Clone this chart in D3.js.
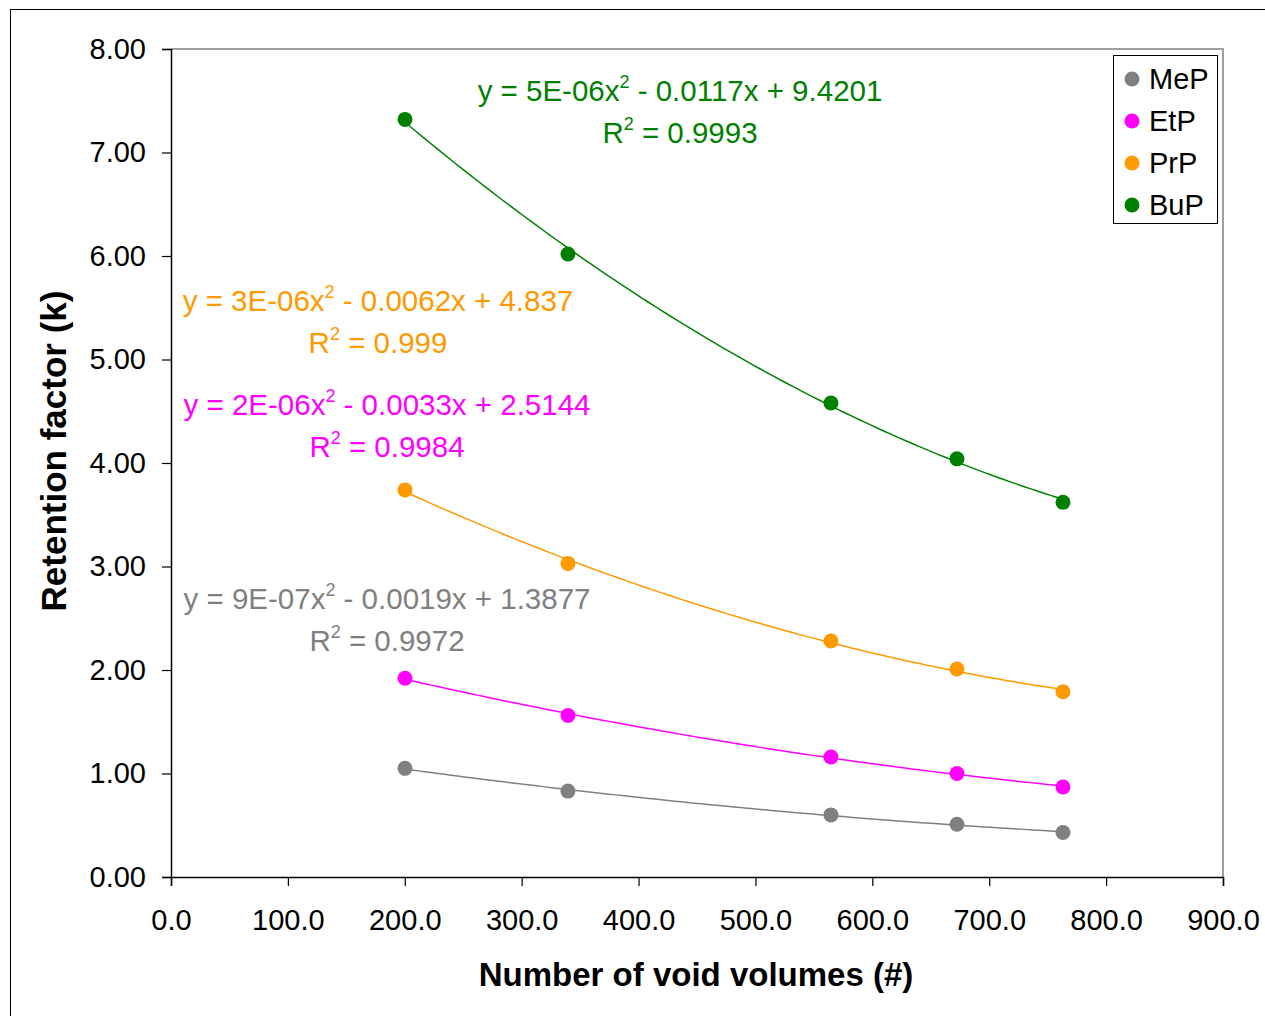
<!DOCTYPE html>
<html>
<head>
<meta charset="utf-8">
<script src="https://cdn.jsdelivr.net/npm/d3@7"></script>
<style>
  body { margin: 0; background: #fff; }
  text { font-family: "Liberation Sans", Arial, sans-serif; }
</style>
</head>
<body>
<div class="canvas"></div>
<script>
// data
const voidVolumes = [200.2, 339.6, 564.6, 672.4, 763.1];
const seriesNames = ['MeP', 'EtP', 'PrP', 'BuP'];
const seriesColors = ['#808080', '#ff00ff', '#ff9900', '#008000'];
const mep = [1.05, 0.83, 0.60, 0.51, 0.43];
const etp = [1.92, 1.56, 1.16, 1.00, 0.87];
const prp = [3.74, 3.03, 2.28, 2.01, 1.79];
const bup = [7.32, 6.02, 4.58, 4.04, 3.62];
const xTicks = [0, 100, 200, 300, 400, 500, 600, 700, 800, 900];
const yTicks = [0, 1, 2, 3, 4, 5, 6, 7, 8];
// trendline labels: [equation before x², equation after x², R² value]
const trendLabels = [
  ['y = 9E-07x', ' - 0.0019x + 1.3877', ' = 0.9972'],
  ['y = 2E-06x', ' - 0.0033x + 2.5144', ' = 0.9984'],
  ['y = 3E-06x', ' - 0.0062x + 4.837', ' = 0.999'],
  ['y = 5E-06x', ' - 0.0117x + 9.4201', ' = 0.9993']
];
const labelSpots = [[387, 609], [387, 415], [378, 311], [680, 101]];

const allSeries = [mep, etp, prp, bup];

const svg = d3.select('.canvas').append('svg')
    .attr('width', 1265)
    .attr('height', 1016);

// outer chart border
svg.append('rect')
    .attr('x', 10.5).attr('y', 9.5)
    .attr('width', 1270).attr('height', 1020)
    .attr('fill', 'none').attr('stroke', '#000').attr('stroke-width', 1);

const x = d3.scaleLinear().domain([0, 900]).range([171, 1223]);
const y = d3.scaleLinear().domain([0, 8]).range([877, 49]);

// plot area frame (grey top/right)
svg.append('path')
    .attr('d', `M${x(0)},${y(8)}H${x(900)}V${y(0)}`)
    .attr('fill', 'none').attr('stroke', '#808080').attr('stroke-width', 1.5);

const xAxis = svg.append('g')
    .attr('transform', `translate(0,${y(0)})`)
    .call(d3.axisBottom(x).tickValues(xTicks).tickFormat(d3.format('.1f')).tickSizeOuter(0).tickSize(9).tickPadding(23));
const yAxis = svg.append('g')
    .attr('transform', `translate(${x(0)},0)`)
    .call(d3.axisLeft(y).tickValues(yTicks).tickFormat(d3.format('.2f')).tickSizeOuter(0).tickSize(9).tickPadding(16));

[xAxis, yAxis].forEach(a => {
  a.select('.domain').attr('stroke', '#000').attr('stroke-width', 1.5);
  a.selectAll('.tick line').attr('stroke', '#000').attr('stroke-width', 1.2);
  a.selectAll('.tick text')
      .attr('fill', '#000')
      .style('font-size', '29px')
      .style('font-family', '"Liberation Sans", Arial, sans-serif');
});

// axis titles
svg.append('text')
    .attr('x', 696).attr('y', 986)
    .attr('text-anchor', 'middle')
    .style('font-size', '33px').style('font-weight', 'bold')
    .text('Number of void volumes (#)');
svg.append('text')
    .attr('transform', 'translate(66,451) rotate(-90)')
    .attr('text-anchor', 'middle')
    .style('font-size', '35px').style('font-weight', 'bold')
    .text('Retention factor (k)');

// least-squares quadratic trendline, fitted to each series
function fitQuad(xs, ys) {
  let s = [0, 0, 0, 0, 0], t = [0, 0, 0];
  xs.forEach((xv, i) => {
    for (let k = 0; k < 5; k++) s[k] += Math.pow(xv, k);
    for (let k = 0; k < 3; k++) t[k] += Math.pow(xv, k) * ys[i];
  });
  const m = [[s[0], s[1], s[2], t[0]], [s[1], s[2], s[3], t[1]], [s[2], s[3], s[4], t[2]]];
  for (let c = 0; c < 3; c++) {
    for (let r = c + 1; r < 3; r++) {
      const f = m[r][c] / m[c][c];
      for (let k = c; k < 4; k++) m[r][k] -= f * m[c][k];
    }
  }
  const coef = [0, 0, 0];
  for (let r = 2; r >= 0; r--) {
    let v = m[r][3];
    for (let k = r + 1; k < 3; k++) v -= m[r][k] * coef[k];
    coef[r] = v / m[r][r];
  }
  return xv => coef[0] + coef[1] * xv + coef[2] * xv * xv;
}

const line = d3.line()
    .x(d => x(d[0]))
    .y(d => y(d[1]));

allSeries.forEach((vals, s) => {
  const f = fitQuad(voidVolumes, vals);
  const x0 = voidVolumes[0], x1 = voidVolumes[voidVolumes.length - 1];
  const pts = d3.range(0, 101).map(k => {
    const xv = x0 + (x1 - x0) * k / 100;
    return [xv, f(xv)];
  });
  svg.append('path')
      .attr('d', line(pts))
      .attr('fill', 'none')
      .attr('stroke', seriesColors[s])
      .attr('stroke-width', 1.5);
  svg.append('g').selectAll('circle')
      .data(vals)
      .join('circle')
      .attr('cx', (d, i) => x(voidVolumes[i]))
      .attr('cy', d => y(d))
      .attr('r', 7.5)
      .attr('fill', seriesColors[s]);
});

// trendline equations
trendLabels.forEach((lab, s) => {
  const [cx, by] = labelSpots[s];
  const t1 = svg.append('text')
      .attr('x', cx).attr('y', by)
      .attr('text-anchor', 'middle')
      .attr('fill', seriesColors[s])
      .style('font-size', '29.5px');
  t1.append('tspan').text(lab[0]);
  t1.append('tspan').attr('dy', -13).style('font-size', '18px').text('2');
  t1.append('tspan').attr('dy', 13).text(lab[1]);
  const t2 = svg.append('text')
      .attr('x', cx).attr('y', by + 42)
      .attr('text-anchor', 'middle')
      .attr('fill', seriesColors[s])
      .style('font-size', '29.5px');
  t2.append('tspan').text('R');
  t2.append('tspan').attr('dy', -13).style('font-size', '18px').text('2');
  t2.append('tspan').attr('dy', 13).text(lab[2]);
});

// legend
const legend = svg.append('g');
legend.append('rect')
    .attr('x', 1113.5).attr('y', 55.5)
    .attr('width', 104).attr('height', 168)
    .attr('fill', '#fff').attr('stroke', '#000').attr('stroke-width', 1);
seriesNames.forEach((name, i) => {
  const ly = 79 + i * 42;
  legend.append('circle')
      .attr('cx', 1132).attr('cy', ly)
      .attr('r', 7.5)
      .attr('fill', seriesColors[i]);
  legend.append('text')
      .attr('x', 1149).attr('y', ly + 10)
      .style('font-size', '29px')
      .attr('fill', '#000')
      .text(name);
});
</script>
</body>
</html>
